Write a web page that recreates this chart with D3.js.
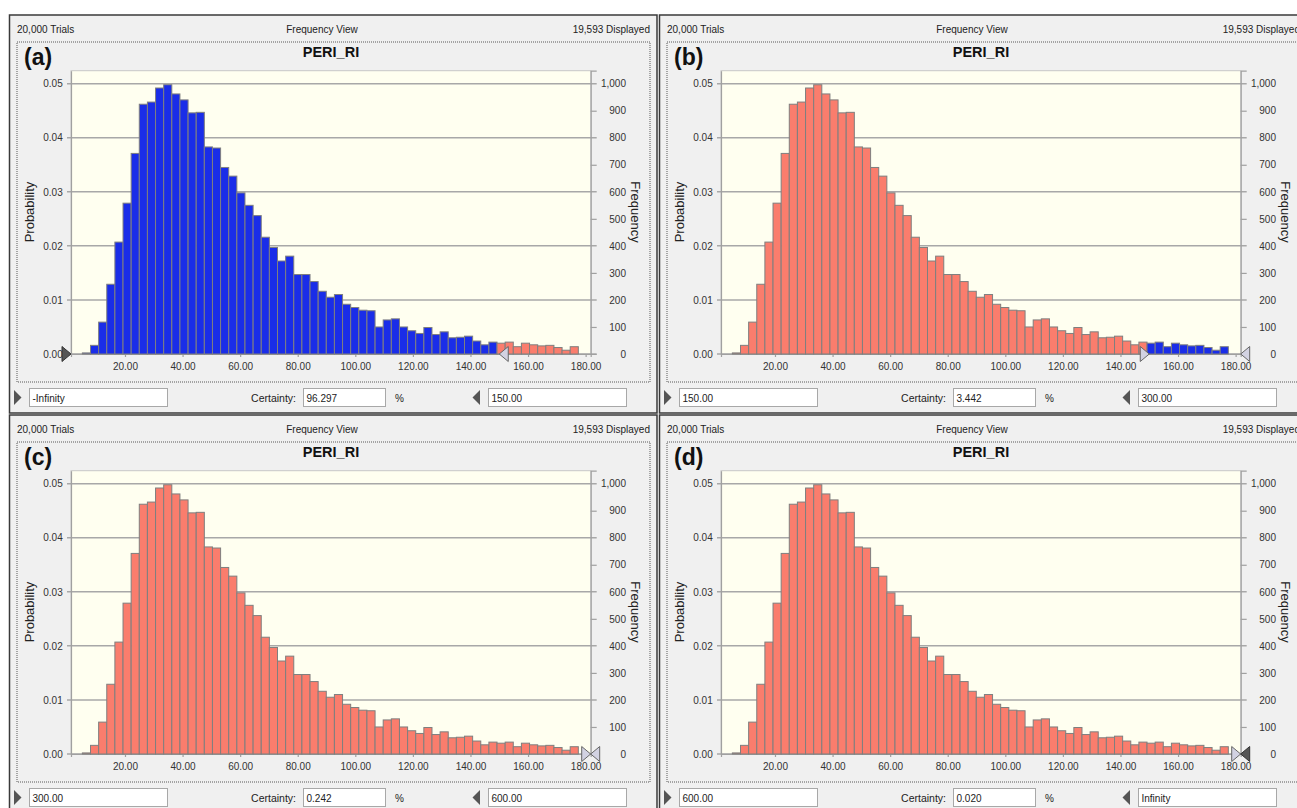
<!DOCTYPE html>
<html>
<head>
<meta charset="utf-8">
<script src="https://cdn.jsdelivr.net/npm/d3@7"></script>
<style>
  body { margin: 0; background: #fff; }
  svg { display: block; font-family: "Liberation Sans", Arial, sans-serif; }
</style>
</head>
<body>
<div id="chart"></div>
<script>
/* DATA */
const panelLetters = ["(a)", "(b)", "(c)", "(d)"];
const lowerText = ["-Infinity", "150.00", "300.00", "600.00"];
const upperText = ["150.00", "300.00", "600.00", "Infinity"];
const certaintyText = ["96.297", "3.442", "0.242", "0.020"];
const lowerValues = [-Infinity, 150, 300, 600];
const upperValues = [150, 300, 600, Infinity];

// histogram of PERI_RI, equal width bins
const binMin = 5.2;
const binWidth = 2.824;
const probabilities = [
  0.0002, 0.0016, 0.0059, 0.0129, 0.0207, 0.0279, 0.0371, 0.0462, 0.0466, 0.0492,
  0.0498, 0.0481, 0.0470, 0.0446, 0.0447, 0.0383, 0.0381, 0.0345, 0.0329, 0.0298,
  0.0275, 0.0256, 0.0216, 0.0197, 0.0172, 0.0181, 0.0147, 0.0147, 0.0134, 0.0116,
  0.0105, 0.0110, 0.0092, 0.0086, 0.0081, 0.0080, 0.0050, 0.0063, 0.0065, 0.0050,
  0.0043, 0.0038, 0.0049, 0.0036, 0.0041, 0.0030, 0.0031, 0.0033, 0.0024, 0.0017,
  0.0022, 0.0020, 0.0022, 0.00135, 0.0020, 0.0017, 0.0015, 0.0016, 0.0012, 0.0007,
  0.00135
];

const probTicks = [0, 0.01, 0.02, 0.03, 0.04, 0.05];
const freqMajor = [0, 200, 400, 600, 800, 1000];
const freqTicks = [0, 100, 200, 300, 400, 500, 600, 700, 800, 900, 1000];
const xTicks = [20, 40, 60, 80, 100, 120, 140, 160, 180];

/* CONSTANTS */
const width = 1297, height = 808;
const offsets = [[0, 0], [650, 0], [0, 400], [650, 400]];
const plot = { left: 71, right: 590.7, top: 70.7, bottom: 354 };
const blue = "#1a2de8", salmon = "#fa7d6d";

/* SCALES */
const xScale = d3.scaleLinear().domain([1.25, 181.76]).range([plot.left, plot.right]);
const yScale = d3.scaleLinear().domain([0, 0.0524]).range([plot.bottom, plot.top]);
const freqScale = d3.scaleLinear().domain([0, 1048]).range([plot.bottom, plot.top]);

const bins = probabilities.map((p, i) => ({
  x0: binMin + i * binWidth,
  x1: binMin + (i + 1) * binWidth,
  p: p
}));

const svg = d3.select("#chart").append("svg")
  .attr("width", width)
  .attr("height", height);

panelLetters.forEach((letter, k) => {
  const g = svg.append("g")
    .attr("transform", `translate(${offsets[k][0]}, ${offsets[k][1]})`);

  // window
  g.append("rect")
    .attr("x", 9.5).attr("y", 15)
    .attr("width", 647.5).attr("height", 398)
    .attr("fill", "#f0f0f0")
    .attr("stroke", "#3a3a3a")
    .attr("stroke-width", 1.5);

  const header = g.append("g")
    .attr("font-size", 10)
    .attr("fill", "#222");
  header.append("text").attr("x", 17).attr("y", 33).text("20,000 Trials");
  header.append("text").attr("x", 322).attr("y", 33).attr("text-anchor", "middle").text("Frequency View");
  header.append("text").attr("x", 650).attr("y", 33).attr("text-anchor", "end").text("19,593 Displayed");

  // chart frame
  g.append("rect")
    .attr("x", 17).attr("y", 42)
    .attr("width", 633).attr("height", 340)
    .attr("fill", "none")
    .attr("stroke", "#a4a4a4")
    .attr("stroke-width", 2)
    .attr("stroke-dasharray", "1,1");

  g.append("text")
    .attr("x", 24).attr("y", 65)
    .attr("font-size", 23)
    .attr("font-weight", "bold")
    .attr("fill", "#111")
    .text(letter);

  g.append("text")
    .attr("x", 331).attr("y", 57)
    .attr("text-anchor", "middle")
    .attr("font-size", 14.5)
    .attr("font-weight", "bold")
    .attr("fill", "#111")
    .text("PERI_RI");

  // plot area
  g.append("rect")
    .attr("x", plot.left).attr("y", plot.top)
    .attr("width", plot.right - plot.left)
    .attr("height", plot.bottom - plot.top)
    .attr("fill", "#fffff0")
    .attr("stroke", "#c8c8c8");

  // gridlines
  g.append("g").selectAll("line")
    .data(probTicks)
    .join("line")
    .attr("x1", plot.left - 4).attr("x2", plot.right + 6)
    .attr("y1", d => yScale(d)).attr("y2", d => yScale(d))
    .attr("stroke", "#a8a8a8")
    .attr("stroke-width", 1.5);

  // AXES
  const leftAxis = g.append("g")
    .attr("transform", `translate(${plot.left}, 0)`)
    .call(d3.axisLeft(yScale).tickValues(probTicks).tickFormat(d3.format(".2f")).tickSize(0).tickPadding(8.3));

  const rightAxis = g.append("g")
    .attr("transform", `translate(${plot.right}, 0)`)
    .call(d3.axisRight(freqScale).tickValues(freqTicks).tickFormat(d3.format(",")).tickSize(6).tickPadding(4));
  rightAxis.selectAll("text").attr("text-anchor", "end").attr("x", 35.3);

  const bottomAxis = g.append("g")
    .attr("transform", `translate(0, ${plot.bottom})`)
    .call(d3.axisBottom(xScale).tickValues(xTicks).tickFormat(d3.format(".2f")).tickSize(3).tickPadding(6));

  [leftAxis, rightAxis, bottomAxis].forEach(ax => {
    ax.select(".domain").attr("stroke", "#a0a0a0").attr("stroke-width", 1.2);
    ax.selectAll(".tick line").attr("stroke", "#a0a0a0").attr("stroke-width", 1.2);
    ax.selectAll("text").attr("fill", "#333").attr("font-size", 10)
      .attr("font-family", "Liberation Sans, Arial, sans-serif");
  });
  rightAxis.selectAll(".tick line").attr("stroke", d => freqMajor.includes(d) ? "none" : "#a0a0a0");

  // bars
  g.append("g").selectAll("rect")
    .data(bins)
    .join("rect")
    .attr("x", d => xScale(d.x0))
    .attr("width", d => xScale(d.x1) - xScale(d.x0))
    .attr("y", d => yScale(d.p))
    .attr("height", d => yScale(0) - yScale(d.p))
    .attr("fill", d => {
      const mid = (d.x0 + d.x1) / 2;
      return (mid >= lowerValues[k] && mid <= upperValues[k]) ? blue : salmon;
    })
    .attr("stroke", "#7f7f7f")
    .attr("stroke-width", 1);

  // axis titles
  g.append("text")
    .attr("transform", "translate(34, 212) rotate(-90)")
    .attr("text-anchor", "middle")
    .attr("font-size", 13)
    .attr("fill", "#222")
    .text("Probability");
  g.append("text")
    .attr("transform", "translate(631, 212) rotate(90)")
    .attr("text-anchor", "middle")
    .attr("font-size", 13)
    .attr("fill", "#222")
    .text("Frequency");

  // certainty grabbers
  const [dMin, dMax] = xScale.domain();
  const clampX = v => xScale(Math.max(dMin, Math.min(dMax, v)));
  const lo = clampX(lowerValues[k]);
  const hi = clampX(upperValues[k]);
  const yb = plot.bottom;
  g.append("path")
    .attr("d", `M${lo},${yb} L${lo - 9},${yb - 7.5} L${lo - 9},${yb + 7.5} Z`)
    .attr("fill", isFinite(lowerValues[k]) ? "#d2d2e2" : "#555")
    .attr("stroke", isFinite(lowerValues[k]) ? "#666" : "#333");
  g.append("path")
    .attr("d", `M${hi},${yb} L${hi + 9},${yb - 7.5} L${hi + 9},${yb + 7.5} Z`)
    .attr("fill", isFinite(upperValues[k]) ? "#d2d2e2" : "#555")
    .attr("stroke", isFinite(upperValues[k]) ? "#666" : "#333");

  // bottom controls
  const ctrl = g.append("g").attr("font-size", 10).attr("fill", "#222");
  ctrl.append("path").attr("d", "M14,390 L21.5,397.5 L14,405 Z").attr("fill", "#555");
  ctrl.append("path").attr("d", "M480,390 L472.5,397.5 L480,405 Z").attr("fill", "#555");

  const boxes = [
    { x: 29.5, w: 138, t: lowerText[k] },
    { x: 303.5, w: 82, t: certaintyText[k] },
    { x: 488.5, w: 138, t: upperText[k] }
  ];
  boxes.forEach(b => {
    ctrl.append("rect")
      .attr("x", b.x).attr("y", 388.5)
      .attr("width", b.w).attr("height", 18)
      .attr("fill", "#fff")
      .attr("stroke", "#a8a8a8");
    ctrl.append("text")
      .attr("x", b.x + 3).attr("y", 401.5)
      .text(b.t);
  });
  ctrl.append("text").attr("x", 296).attr("y", 401.5)
    .attr("text-anchor", "end").attr("font-size", 10.5).text("Certainty:");
  ctrl.append("text").attr("x", 395).attr("y", 401.5).text("%");
});
</script>
</body>
</html>
